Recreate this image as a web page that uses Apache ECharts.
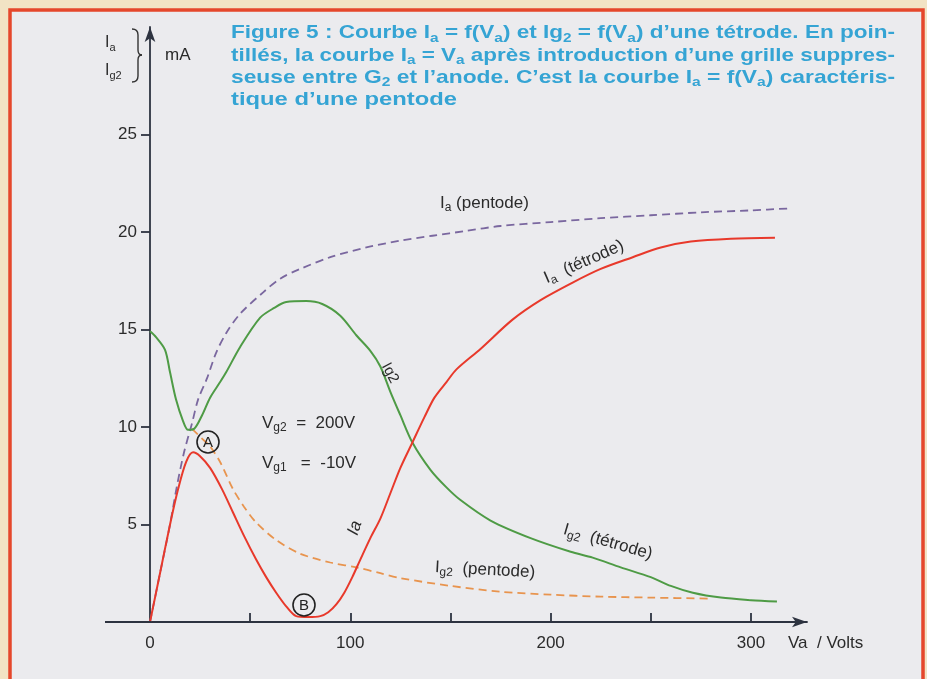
<!DOCTYPE html>
<html><head><meta charset="utf-8">
<script src="https://cdn.jsdelivr.net/npm/echarts@6/dist/echarts.min.js"></script>
<style>html,body{margin:0;padding:0;background:#f2e3c4;}#c{width:927px;height:679px;}</style>
</head><body><div id="c"></div>
<script>
// ---- data (Va in volts, current in mA) ----
const ig2Tetrode = [[0,14.9],[3,14.6],[7.5,13.95],[10,12.8],[13,11.4],[16.5,10.3],[19,9.85],[22,9.9],[26,10.6],[30,11.5],[35,12.3],[38,12.8],[45,14.1],[55,15.6],[62,16.1],[68,16.4],[78,16.45],[86,16.3],[95,15.7],[103,14.7],[110,13.9],[115,13.1],[120,11.8],[125,10.6],[131,9.2],[140,7.8],[148,6.9],[155,6.25],[170,5.2],[190,4.3],[210,3.6],[221,3.3],[235,2.8],[250,2.3],[260,1.85],[271,1.5],[285,1.25],[300,1.12],[313,1.05]];
const iaTetrode = [[0,0],[5,2.5],[10,5.0],[14,6.8],[18,8.2],[21.5,8.7],[25,8.5],[30,7.9],[36,6.8],[41.5,5.6],[47,4.4],[53,3.2],[58,2.3],[63,1.5],[68,0.8],[73,0.3],[79,0.25],[85,0.3],[89,0.5],[93,0.9],[97,1.5],[101,2.3],[105,3.2],[110,4.3],[115,5.3],[120,6.6],[125,7.9],[131,9.2],[137,10.5],[142,11.5],[148,12.3],[153,12.95],[165,14.0],[181,15.5],[195,16.5],[211,17.4],[225,18.1],[241,18.7],[255,19.2],[270,19.5],[290,19.65],[312,19.7]];
const iaPentode = [[0,0],[5,2.5],[10,5.0],[13.5,7.0],[17,8.7],[21,10.2],[24,11.4],[28.5,12.5],[33,13.8],[38,14.8],[45,15.8],[56.5,16.9],[65,17.6],[75,18.1],[90,18.7],[108,19.2],[125,19.55],[141,19.8],[158,20.05],[175,20.3],[200,20.5],[225,20.7],[250,20.85],[275,21.0],[300,21.1],[319,21.2]];
const ig2Pentode = [[21,9.9],[26,9.4],[30,9.0],[35,8.2],[41.5,6.8],[47,5.9],[53,5.1],[63,4.2],[75,3.5],[90,3.05],[103,2.8],[115,2.5],[125,2.25],[150,1.85],[175,1.55],[200,1.4],[225,1.3],[250,1.25],[280,1.2]];
const xTickValues = [50,100,150,200,250,300];
const xLabelValues = [0,100,200,300];
const yTickValues = [5,10,15,20,25];

const titleLines = [
  [['Figure 5 : Courbe I',0],['a',1],[' = f(V',0],['a',1],[') et Ig',0],['2',1],[' = f(V',0],['a',1],[') d’une tétrode. En poin-',0]],
  [['tillés, la courbe I',0],['a',1],[' = V',0],['a',1],[' après introduction d’une grille suppres-',0]],
  [['seuse entre G',0],['2',1],[' et l’anode. C’est la courbe I',0],['a',1],[' = f(V',0],['a',1],[') caractéris-',0]],
  [['tique d’une pentode',0]]
];

const FONT = "'Liberation Sans', Arial, Helvetica, sans-serif";
const TXT = '#2b2b2b';
const AX = '#2d3340';
const ctx = document.createElement('canvas').getContext('2d');
function measure(parts, fs, bold){
  let w = 0;
  parts.forEach(p => {
    const s = p[1] ? Math.round(fs*0.68) : fs;
    ctx.font = (bold?'bold ':'') + s + 'px ' + FONT;
    w += ctx.measureText(p[0]).width;
  });
  return w;
}
function rich(parts){ return parts.map(p => '{' + (p[1]?'s':'n') + '|' + p[0] + '}').join(''); }
function label(parts, x, y, opt){
  opt = opt || {};
  const fs = opt.fs || 17, col = opt.color || TXT, sfs = Math.round(fs*0.68);
  const fw = opt.bold ? 'bold' : 'normal', fst = opt.italic ? 'italic' : 'normal';
  return {
    type:'text', x:x, y:y, rotation:(opt.rot||0)*Math.PI/180, scaleX: opt.sx||1, z:50, silent:true,
    style:{
      text: rich(parts), fill: col, align: opt.align||'left', verticalAlign:'middle',
      rich:{
        n:{fontSize:fs, fontFamily:FONT, fontWeight:fw, fontStyle:fst, fill:col, lineHeight:fs+4, verticalAlign:'middle'},
        s:{fontSize:sfs, fontFamily:FONT, fontWeight:fw, fontStyle:fst, fill:col, lineHeight:sfs+1, verticalAlign:'bottom'}
      }
    }
  };
}

const graphics = [];
graphics.push({type:'rect', z:-100, silent:true, shape:{x:10,y:10,width:913,height:700}, style:{fill:'#ebebee', stroke:'#e5472b', lineWidth:3.5}});
// x-axis line extension left of the origin
graphics.push({type:'line', z:10, silent:true, shape:{x1:105,y1:622,x2:151,y2:622}, style:{stroke:AX, lineWidth:1.8}});
// title
const titleTargets = [664, 664, 664, 226];
const titleY = [33, 55.5, 77.5, 99.5];
titleLines.forEach((ln, i) => {
  const w = measure(ln, 19, true);
  graphics.push(label(ln, 231, titleY[i], {fs:19, bold:true, color:'#35a4d4', sx: titleTargets[i]/w}));
});
// y axis annotation
graphics.push(label([['I',0],['a',1]], 105, 43, {fs:16}));
graphics.push(label([['I',0],['g2',1]], 105, 71, {fs:16}));
const braceStyle = {fill:'none', stroke:'#333', lineWidth:1.4};
[
  {type:'bezierCurve', shape:{x1:132,y1:29,cpx1:138,cpy1:29,x2:138,y2:35}},
  {type:'line', shape:{x1:138,y1:35,x2:138,y2:50}},
  {type:'bezierCurve', shape:{x1:138,y1:50,cpx1:138,cpy1:55,x2:142,y2:55}},
  {type:'bezierCurve', shape:{x1:142,y1:55,cpx1:138,cpy1:55,x2:138,y2:60}},
  {type:'line', shape:{x1:138,y1:60,x2:138,y2:76}},
  {type:'bezierCurve', shape:{x1:138,y1:76,cpx1:138,cpy1:82,x2:132,y2:82}}
].forEach(el => { el.z = 50; el.silent = true; el.style = braceStyle; graphics.push(el); });
graphics.push(label([['mA',0]], 165, 55, {fs:17}));
// curve labels
graphics.push(label([['I',0],['a',1],[' (pentode)',0]], 440, 203, {fs:17}));
graphics.push(label([['I',0],['a',1],['  (tétrode)',0]], 584, 262, {fs:17, align:'center', rot:23.5}));
graphics.push(label([['Ig2',0]], 390, 373, {fs:15, align:'center', rot:-62}));
graphics.push(label([['Ia',0]], 355, 528, {fs:17, align:'center', rot:72, italic:true}));
graphics.push(label([['V',0],['g2',1],['  =  200V',0]], 262, 423, {fs:17}));
graphics.push(label([['V',0],['g1',1],['   =  -10V',0]], 262, 463, {fs:17}));
graphics.push(label([['I',0],['g2',1],['  (tétrode)',0]], 608, 542, {fs:17, align:'center', rot:-16}));
graphics.push(label([['I',0],['g2',1],['  (pentode)',0]], 485, 570, {fs:17, align:'center', rot:-3}));
graphics.push(label([['Va  / Volts',0]], 788, 643, {fs:17}));
// circled markers
[['A',208,442],['B',304,605]].forEach(m => {
  graphics.push({type:'circle', z:50, silent:true, shape:{cx:m[1], cy:m[2], r:11}, style:{fill:'none', stroke:'#222', lineWidth:1.6}});
  graphics.push({type:'text', z:51, silent:true, x:m[1], y:m[2]+0.5, style:{text:m[0], fill:'#222', font:'15px '+FONT, align:'center', verticalAlign:'middle'}});
});

const chart = echarts.init(document.getElementById('c'));
const lineBase = {type:'line', smooth:0.3, showSymbol:false, symbol:'none'};
chart.setOption({
  backgroundColor:'#f2e3c4',
  animation:false,
  grid:{left:150, right:120, top:27, bottom:57},
  xAxis:{
    type:'value', min:0, max:328,
    axisLine:{show:true, onZero:false, symbol:['none','arrow'], symbolSize:[8,15], lineStyle:{color:AX, width:1.8}},
    axisTick:{show:true, inside:true, length:9, customValues:xTickValues, lineStyle:{color:AX, width:1.8}},
    axisLabel:{customValues:xLabelValues, margin:13, fontSize:17, fontFamily:FONT, color:TXT},
    splitLine:{show:false}
  },
  yAxis:{
    type:'value', min:0, max:30.5,
    axisLine:{show:true, onZero:false, symbol:['none','arrow'], symbolSize:[8,15], lineStyle:{color:AX, width:1.8}},
    axisTick:{show:true, inside:false, length:9, customValues:yTickValues, lineStyle:{color:AX, width:1.8}},
    axisLabel:{customValues:yTickValues, margin:13, fontSize:17, fontFamily:FONT, color:TXT},
    splitLine:{show:false}
  },
  series:[
    Object.assign({name:'Ia (pentode)', data:iaPentode, lineStyle:{color:'#7a679f', width:1.8, type:[8,5]}, z:3}, lineBase),
    Object.assign({name:'Ig2 (pentode)', data:ig2Pentode, lineStyle:{color:'#e8944e', width:1.8, type:[8,5]}, z:3}, lineBase),
    Object.assign({name:'Ig2 (tétrode)', data:ig2Tetrode, lineStyle:{color:'#4e9b45', width:2}, z:4}, lineBase),
    Object.assign({name:'Ia (tétrode)', data:iaTetrode, lineStyle:{color:'#e8392b', width:2}, z:5}, lineBase)
  ],
  graphic: graphics
});
</script>
</body></html>
